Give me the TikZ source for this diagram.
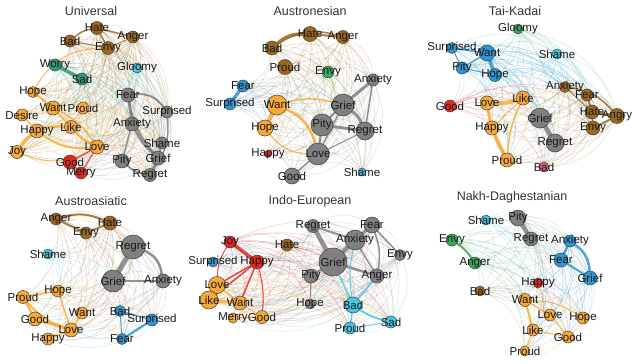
\documentclass[tikz,border=0pt]{standalone}
\usepackage{fontspec}
\setmainfont{Liberation Sans}
\definecolor{cbr}{RGB}{156,104,30}
\definecolor{cor}{RGB}{248,170,52}
\definecolor{cgy}{RGB}{128,128,128}
\definecolor{ctl}{RGB}{44,156,120}
\definecolor{ccy}{RGB}{70,200,228}
\definecolor{crd}{RGB}{228,38,30}
\definecolor{cbl}{RGB}{46,150,210}
\definecolor{cgn}{RGB}{58,168,90}
\definecolor{cpk}{RGB}{228,90,140}
\pgfdeclarelayer{web}\pgfdeclarelayer{strong}\pgfdeclarelayer{fg}
\pgfsetlayers{web,strong,main,fg}
\tikzset{
 circ/.style={circle,draw=black!75,line width=0.5pt,inner sep=0pt},
 lbl/.style={font=\fontsize{11.5}{12}\selectfont,text=black!90,inner sep=0pt},
 ttl/.style={font=\fontsize{12.5}{13}\selectfont,text=black!80,inner sep=0pt},
 webe/.style={line width=0.4pt,opacity=0.28},
 se/.style={opacity=0.85,line cap=round}
}
\newcommand\nd[6]{%
 \node[circ,fill=#6,minimum size={2*#5pt}] (#1-#2) at (#3,#4) {};%
 \begin{pgfonlayer}{fg}\node[lbl] at (#3,#4) {#2};\end{pgfonlayer}}
\newcommand\panel[2]{%
 \foreach \n/\x/\y/\r/\c in #2 {\nd{#1}{\n}{\x}{\y}{\r}{\c}}%
 \begin{pgfonlayer}{web}%
 \foreach \a/\xa/\ya/\ra/\ca [count=\i] in #2 {%
  \foreach \b/\xb/\yb/\rb/\cb [count=\j] in #2 {%
   \ifnum\j>\i \draw[webe,\ca] (#1-\a) to[bend left=30] (#1-\b);\fi}}%
 \end{pgfonlayer}}
\def\Ulist{Hate/97/28/6.5/cbr,Anger/133/37/6/cbr,Bad/70/41/6/cbr,Envy/108/48/6.5/cbr,Worry/55/65/6/ctl,Sad/82/79/6/ctl,Gloomy/137/68/5/ccy,Hope/33/92/5.5/cor,Fear/128/95/7/cgy,Want/53/108/7/cor,Proud/83/108/6/cor,Surprised/167/112/6/cgy,Desire/22/115/6/cor,Anxiety/132/124/7/cgy,Happy/37/131/7/cor,Like/71/127/6.5/cor,Love/97/147/7/cor,Shame/162/143/6/cgy,Joy/17/152/6.5/cor,Good/70/162/7/crd,Pity/122/161/7/cgy,Grief/158/158/7/cgy,Merry/81/173/6/crd,Regret/150/175/6.5/cgy}
\def\Alist{Hate/310/34/7.5/cbr,Anger/343/37/6.5/cbr,Bad/272/48/7/cbr,Proud/285/67/7.5/cbr,Envy/328/72/6/cgn,Anxiety/373/80/6/cgy,Fear/243/86/6/cbl,Surprised/230/104/6/cbl,Want/277/105/10/cor,Grief/343/105/11/cgy,Pity/322/125/11/cgy,Hope/265/128/8/cor,Regret/365/131/9/cgy,Happy/268/154/3.5/crd,Love/318/154/11/cgy,Good/292/176/8/cgy,Shame/362/172/4/ccy}
\def\Tlist{Gloomy/518/29/5/cgn,Surprised/452/48/5.5/cbl,Want/487/53/8/cbl,Shame/557/54/5/ccy,Pity/462/68/6/cbl,Hope/495/75/6.5/cbl,Anxiety/565/87/5.5/cbr,Fear/587/95/6/cbr,Good/450/106/6/crd,Love/487/103/7/cor,Like/523/98/7/cor,Hate/592/112/7/cbr,Angry/617/116/7.5/cbr,Grief/540/118/10/cgy,Happy/492/128/7/cor,Envy/593/128/7/cbr,Regret/555/143/9/cgy,Proud/507/160/7/cor,Bad/544/167/5/cpk}
\def\Slist{Anger/56/219/6/cbr,Hate/110/223/7/cbr,Envy/86/233/6/cbr,Shame/48/254/5/ccy,Regret/133/247/12/cgy,Grief/113/281/11/cgy,Anxiety/163/281/7/cgy,Hope/58/291/6/cor,Proud/23/297/6.5/cor,Want/82/313/6/cor,Bad/120/311/5.5/cbl,Surprised/152/320/6/cbl,Good/35/319/7/cor,Love/71/330/7/cor,Happy/48/339/6/cor,Fear/122/339/5.5/cbl}
\def\Ilist{Regret/313/226/6.5/cgy,Fear/372/225/8/cgy,Anxiety/355/240/10/cgy,Joy/230/242/6/crd,Hate/287/245/6/cbr,Envy/400/255/5.5/cgy,Surprised/213/262/5/cbl,Happy/257/262/7/crd,Grief/333/262/14/cgy,Pity/311/276/7/cgy,Anger/377/276/7/cgy,Love/217/285/8.5/cor,Like/209/300/9/cor,Want/240/303/7/cor,Hope/310/304/5/cgy,Bad/353/305/8/ccy,Merry/233/318/5/cor,Good/262/317/6.5/cor,Sad/391/322/6/ccy,Proud/350/328/6/ccy}
\def\Nlist{Shame/486/220/5/ccy,Pity/518/218/8/cgy,Regret/531/239/7/cgy,Envy/452/240/6/cgn,Anxiety/570/241/6/cbl,Anger/475/263/6/cgn,Fear/561/260/7/cbl,Grief/590/278/7/cbl,Happy/538/283/5/crd,Bad/480/291/5/cbr,Want/525/300/6.5/cor,Love/550/315/6/cor,Hope/583/318/6/cor,Like/533/330/6/cor,Good/568/337/6/cor,Proud/525/351/5/cor}
\begin{document}
\begin{tikzpicture}[x=1pt,y=-1pt]
\begin{pgfonlayer}{web}
\fill[white] (0,0) rectangle (640,364);
\end{pgfonlayer}
\useasboundingbox (0,0) rectangle (640,364);
\node[ttl] (t1) at (91,11) {Universal};
\node[ttl] (t2) at (310,11) {Austronesian};
\node[ttl] (t3) at (515,11) {Tai-Kadai};
\node[ttl] (t4) at (91,201) {Austroasiatic};
\node[ttl] (t5) at (310,201) {Indo-European};
\node[ttl] (t6) at (512,197) {Nakh-Daghestanian};
\panel{U}{\Ulist}
\panel{A}{\Alist}
\panel{T}{\Tlist}
\panel{S}{\Slist}
\panel{I}{\Ilist}
\panel{N}{\Nlist}
\begin{pgfonlayer}{strong}
% Universal
\draw[se,ctl,line width=3.5] (U-Worry) -- (U-Sad);
\draw[se,cor,line width=3.5] (U-Joy) to[bend left=10] (U-Happy);
\draw[se,cor,line width=2.5] (U-Happy) to[bend left=10] (U-Like);
\draw[se,cor,line width=2.5] (U-Like) to[bend right=10] (U-Love);
\draw[se,cor,line width=2] (U-Happy) to[bend right=20] (U-Love);
\draw[se,cor,line width=2] (U-Hope) -- (U-Want);
\draw[se,cor,line width=1.5] (U-Want) -- (U-Like);
\draw[se,cor,line width=1.5] (U-Desire) -- (U-Happy);
\draw[se,cor,line width=1.5] (U-Want) to[bend left=15] (U-Love);
\draw[se,cor,line width=1] (U-Envy) to[bend right=30] (U-Hope);
\draw[se,cor,line width=1] (U-Joy) to[bend right=25] (U-Love);
\draw[se,crd,line width=1.5] (U-Good) -- (U-Merry);
\draw[se,crd,line width=1] (U-Good) -- (U-Love);
\draw[se,crd,line width=1] (U-Merry) -- (U-Love);
\draw[se,cgy,line width=2.5] (U-Fear) -- (U-Anxiety);
\draw[se,cgy,line width=2] (U-Fear) to[bend left=30] (U-Surprised);
\draw[se,cgy,line width=2.5] (U-Anxiety) to[bend right=10] (U-Grief);
\draw[se,cgy,line width=2] (U-Fear) to[bend right=15] (U-Grief);
\draw[se,cgy,line width=2.5] (U-Grief) -- (U-Regret);
\draw[se,cgy,line width=2] (U-Pity) to[bend right=15] (U-Regret);
\draw[se,cgy,line width=1.5] (U-Anxiety) -- (U-Pity);
\draw[se,cgy,line width=1.5] (U-Shame) -- (U-Grief);
\draw[se,cgy,line width=1.5] (U-Surprised) to[bend left=20] (U-Regret);
\draw[se,cbr,line width=1.5] (U-Hate) to[bend right=15] (U-Bad);
\draw[se,cbr,line width=1.5] (U-Hate) -- (U-Anger);
\draw[se,cbr,line width=1.5] (U-Hate) -- (U-Envy);
\draw[se,cbr,line width=1] (U-Bad) -- (U-Envy);
\draw[se,cbr,line width=1] (U-Anger) -- (U-Envy);
% Austronesian
\draw[se,cbr,line width=3.5] (A-Bad) to[bend left=20] (A-Hate);
\draw[se,cbr,line width=2] (A-Hate) -- (A-Anger);
\draw[se,cbr,line width=1.5] (A-Bad) to[bend left=25] (A-Anger);
\draw[se,cbl,line width=3.5] (A-Fear) -- (A-Surprised);
\draw[se,cor,line width=4.5] (A-Want) -- (A-Hope);
\draw[se,cor,line width=2.5] (A-Want) to[bend left=25] (A-Love);
\draw[se,cor,line width=1.5] (A-Want) to[bend left=15] (A-Grief);
\draw[se,cor,line width=1.2] (A-Hope) to[bend right=25] (A-Love);
\draw[se,cgy,line width=3] (A-Grief) -- (A-Anxiety);
\draw[se,cgy,line width=3] (A-Grief) to[bend left=15] (A-Regret);
\draw[se,cgy,line width=3] (A-Pity) -- (A-Regret);
\draw[se,cgy,line width=2] (A-Pity) -- (A-Grief);
\draw[se,cgy,line width=1.5] (A-Love) -- (A-Grief);
\draw[se,cgy,line width=2] (A-Love) -- (A-Pity);
\draw[se,cgy,line width=1.5] (A-Love) -- (A-Good);
\draw[se,cgy,line width=1.5] (A-Anxiety) -- (A-Regret);
\draw[se,cgy,line width=1] (A-Love) -- (A-Regret);
% Tai-Kadai
\draw[se,cbl,line width=3.5] (T-Want) -- (T-Hope);
\draw[se,cbl,line width=1.5] (T-Surprised) -- (T-Want);
\draw[se,cbl,line width=1.5] (T-Pity) -- (T-Want);
\draw[se,cbl,line width=1] (T-Pity) -- (T-Hope);
\draw[se,cbl,line width=1] (T-Surprised) -- (T-Pity);
\draw[se,cor,line width=4] (T-Love) to[bend right=10] (T-Like);
\draw[se,cor,line width=3] (T-Love) to[bend right=10] (T-Proud);
\draw[se,cor,line width=2] (T-Happy) -- (T-Proud);
\draw[se,cor,line width=1.5] (T-Like) to[bend right=10] (T-Proud);
\draw[se,cor,line width=1] (T-Like) -- (T-Happy);
\draw[se,cgy,line width=4.5] (T-Grief) -- (T-Regret);
\draw[se,cbr,line width=2] (T-Fear) -- (T-Hate);
\draw[se,cbr,line width=3] (T-Hate) -- (T-Angry);
\draw[se,cbr,line width=2] (T-Angry) -- (T-Envy);
\draw[se,cbr,line width=1.5] (T-Anxiety) to[bend left=20] (T-Angry);
\draw[se,cbr,line width=1.5] (T-Hate) -- (T-Envy);
\draw[se,cbr,line width=1] (T-Anxiety) -- (T-Hate);
% Austroasiatic
\draw[se,cbr,line width=2] (S-Anger) to[bend left=20] (S-Hate);
\draw[se,cbr,line width=2] (S-Anger) -- (S-Envy);
\draw[se,cbr,line width=2] (S-Envy) -- (S-Hate);
\draw[se,cgy,line width=5] (S-Regret) -- (S-Grief);
\draw[se,cgy,line width=2.5] (S-Regret) to[bend left=30] (S-Anxiety);
\draw[se,cgy,line width=2.5] (S-Grief) -- (S-Anxiety);
\draw[se,cor,line width=2.5] (S-Proud) -- (S-Good);
\draw[se,cor,line width=2] (S-Proud) to[bend right=15] (S-Love);
\draw[se,cor,line width=2.5] (S-Good) -- (S-Love);
\draw[se,cor,line width=1.5] (S-Hope) -- (S-Love);
\draw[se,cor,line width=1.5] (S-Happy) -- (S-Love);
\draw[se,cor,line width=1.5] (S-Want) -- (S-Love);
\draw[se,cor,line width=1.5] (S-Proud) -- (S-Hope);
\draw[se,cbl,line width=1.5] (S-Bad) -- (S-Surprised);
\draw[se,cbl,line width=2] (S-Surprised) -- (S-Fear);
\draw[se,cbl,line width=1] (S-Bad) -- (S-Fear);
% Indo-European
\draw[se,crd,line width=3.5] (I-Joy) -- (I-Happy);
\draw[se,crd,line width=1.5] (I-Happy) -- (I-Love);
\draw[se,crd,line width=1.5] (I-Happy) -- (I-Like);
\draw[se,crd,line width=1.5] (I-Happy) -- (I-Want);
\draw[se,crd,line width=1] (I-Happy) to[bend left=10] (I-Good);
\draw[se,crd,line width=1] (I-Joy) to[bend right=15] (I-Love);
\draw[se,cor,line width=3.5] (I-Love) -- (I-Like);
\draw[se,cor,line width=3.5] (I-Like) -- (I-Want);
\draw[se,cor,line width=1.5] (I-Love) -- (I-Want);
\draw[se,cor,line width=1.5] (I-Merry) -- (I-Good);
\draw[se,cor,line width=1] (I-Want) -- (I-Good);
\draw[se,cgy,line width=4.5] (I-Regret) -- (I-Grief);
\draw[se,cgy,line width=4.5] (I-Anxiety) -- (I-Grief);
\draw[se,cgy,line width=3] (I-Fear) -- (I-Anxiety);
\draw[se,cgy,line width=2] (I-Regret) -- (I-Anxiety);
\draw[se,cgy,line width=2.5] (I-Grief) -- (I-Pity);
\draw[se,cgy,line width=2.5] (I-Grief) -- (I-Anger);
\draw[se,cgy,line width=1.5] (I-Fear) -- (I-Envy);
\draw[se,cgy,line width=1.5] (I-Anxiety) -- (I-Anger);
\draw[se,cgy,line width=1.5] (I-Fear) to[bend left=15] (I-Anger);
\draw[se,cgy,line width=1] (I-Pity) -- (I-Hope);
\draw[se,ccy,line width=1.5] (I-Bad) -- (I-Proud);
\draw[se,ccy,line width=2] (I-Bad) to[bend right=10] (I-Sad);
\draw[se,ccy,line width=1.5] (I-Grief) -- (I-Bad);
\draw[se,ccy,line width=1.5] (I-Anger) -- (I-Bad);
\draw[se,ccy,line width=1] (I-Anxiety) to[bend right=10] (I-Bad);
\draw[se,ccy,line width=1] (I-Proud) -- (I-Sad);
% Nakh-Daghestanian
\draw[se,cgy,line width=4.5] (N-Pity) -- (N-Regret);
\draw[se,cgn,line width=2] (N-Envy) to[bend left=10] (N-Anger);
\draw[se,cbl,line width=2.5] (N-Anxiety) -- (N-Fear);
\draw[se,cbl,line width=2.5] (N-Anxiety) to[bend left=25] (N-Grief);
\draw[se,cbl,line width=2] (N-Fear) -- (N-Grief);
\draw[se,cor,line width=2] (N-Want) -- (N-Like);
\draw[se,cor,line width=1.5] (N-Want) -- (N-Love);
\draw[se,cor,line width=1] (N-Want) to[bend left=15] (N-Hope);
\draw[se,cor,line width=1] (N-Love) -- (N-Good);
\draw[se,cor,line width=1] (N-Like) -- (N-Good);
\draw[se,cor,line width=1] (N-Proud) -- (N-Like);
\end{pgfonlayer}
\end{tikzpicture}
\end{document}
